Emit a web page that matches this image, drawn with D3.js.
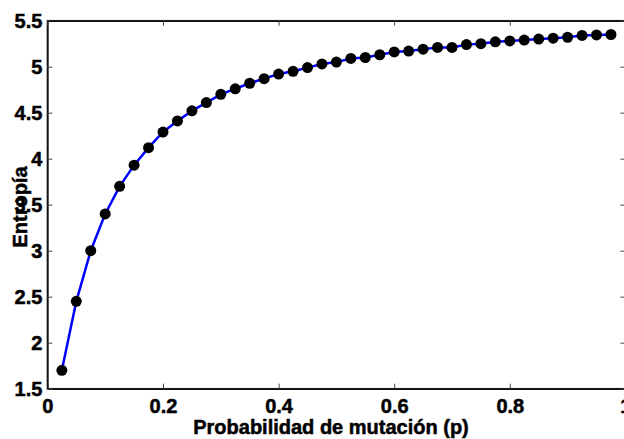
<!DOCTYPE html>
<html>
<head>
<meta charset="utf-8">
<script src="https://cdn.jsdelivr.net/npm/d3@7"></script>
<style>
  html, body { margin: 0; padding: 0; background: #fff; }
  svg { display: block; }
  text { font-family: "Liberation Sans", Arial, Helvetica, sans-serif; font-weight: bold; }
</style>
</head>
<body>
<svg id="chart" width="624" height="439"></svg>
<script>
// Mutation probability (p) and resulting entropy
const pValues = [0.025, 0.05, 0.075, 0.1, 0.125, 0.15, 0.175, 0.2, 0.225, 0.25,
  0.275, 0.3, 0.325, 0.35, 0.375, 0.4, 0.425, 0.45, 0.475, 0.5,
  0.525, 0.55, 0.575, 0.6, 0.625, 0.65, 0.675, 0.7, 0.725, 0.75,
  0.775, 0.8, 0.825, 0.85, 0.875, 0.9, 0.925, 0.95, 0.975];
const entropy = [1.70, 2.45, 3.00, 3.40, 3.70, 3.93, 4.12, 4.29, 4.41, 4.52,
  4.61, 4.70, 4.76, 4.82, 4.87, 4.92, 4.95, 4.99, 5.03, 5.05,
  5.09, 5.10, 5.13, 5.16, 5.17, 5.19, 5.21, 5.21, 5.24, 5.25,
  5.27, 5.28, 5.29, 5.30, 5.31, 5.32, 5.34, 5.345, 5.35];
const xTicks = [0, 0.2, 0.4, 0.6, 0.8, 1];
const yTicks = [1.5, 2, 2.5, 3, 3.5, 4, 4.5, 5, 5.5];
const xLabel = "Probabilidad de mutación (p)";
const yLabel = "Entropía";

const svg = d3.select("#chart");
const plotL = 47.4, plotR = 625.4, plotT = 20.7, plotB = 388.7;

const x = d3.scaleLinear().domain([0, 1]).range([plotL, plotR]);
const y = d3.scaleLinear().domain([1.5, 5.5]).range([plotB, plotT]);

const data = pValues.map((p, i) => ({ p, v: entropy[i] }));

// Plot frame
svg.append("rect")
  .attr("x", plotL).attr("y", plotT)
  .attr("width", plotR - plotL).attr("height", plotB - plotT)
  .attr("fill", "none").attr("stroke", "#222").attr("stroke-width", 1.5);

// Bottom and left axes with inward ticks
const xAxis = svg.append("g").attr("transform", `translate(0,${plotB})`)
  .call(d3.axisBottom(x).tickValues(xTicks).tickFormat(d3.format("")).tickSizeInner(-5).tickSizeOuter(0).tickPadding(10));
const yAxis = svg.append("g").attr("transform", `translate(${plotL},0)`)
  .call(d3.axisLeft(y).tickValues(yTicks).tickFormat(d3.format("")).tickSizeInner(-5).tickSizeOuter(0).tickPadding(5));
// Mirrored ticks on top and right edges
svg.append("g").attr("transform", `translate(0,${plotT})`)
  .call(d3.axisTop(x).tickValues(xTicks).tickFormat("").tickSizeInner(-5).tickSizeOuter(0));
svg.append("g").attr("transform", `translate(${plotR},0)`)
  .call(d3.axisRight(y).tickValues(yTicks).tickFormat("").tickSizeInner(-5).tickSizeOuter(0));

svg.selectAll(".domain").attr("stroke", "#111").attr("stroke-width", 1.5);
svg.selectAll(".tick line").attr("stroke", "#444");

function heavy(sel, size) {
  sel.attr("fill", "#000")
    .attr("stroke", "#000").attr("stroke-width", 0.5)
    .style("font-size", size + "px").style("font-weight", "bold")
    .style("font-family", "'Liberation Sans', Arial, sans-serif");
}
[xAxis, yAxis].forEach(g => heavy(g.selectAll("text"), 20));

// Curve
svg.append("path")
  .datum(data)
  .attr("fill", "none")
  .attr("stroke", "#0000ff")
  .attr("stroke-width", 2.5)
  .attr("d", d3.line().x(d => x(d.p)).y(d => y(d.v)));

// Markers
svg.append("g").selectAll("circle")
  .data(data).join("circle")
  .attr("cx", d => x(d.p)).attr("cy", d => y(d.v))
  .attr("r", 5.5).attr("fill", "#000");

// Axis titles
heavy(svg.append("text")
  .attr("x", 331).attr("y", 434)
  .attr("text-anchor", "middle")
  .text(xLabel), 20);

heavy(svg.append("text")
  .attr("transform", `translate(27,207) rotate(-90)`)
  .attr("text-anchor", "middle")
  .text(yLabel), 20);
</script>
</body>
</html>
